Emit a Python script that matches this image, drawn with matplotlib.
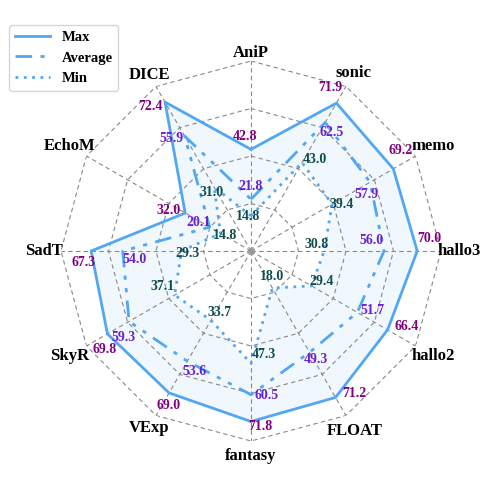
import numpy as np
import matplotlib.pyplot as plt
from matplotlib.lines import Line2D

# data
labels = ['AniP', 'sonic', 'memo', 'hallo3', 'hallo2', 'FLOAT',
          'fantasy', 'VExp', 'SkyR', 'SadT', 'EchoM', 'DICE']
max_vals = [42.8, 71.9, 69.2, 70.0, 66.4, 71.2, 71.8, 69.0, 69.8, 67.3, 32.0, 72.4]
avg_vals = [21.8, 62.5, 57.9, 56.0, 51.7, 49.3, 60.5, 53.6, 59.3, 54.0, 20.1, 55.9]
min_vals = [14.8, 43.0, 39.4, 30.8, 29.4, 18.0, 47.3, 33.7, 37.1, 29.3, 14.8, 31.0]
rings = [20, 40, 60, 80]

# label nudges: (angle shift in degrees ccw, radial shift in px)
max_off = [(3, 13), (4, 11), (4, 16), (4, 12), (4, 15), (6, 7),
           (3, 5), (2, 11), (4, 11), (4, 8), (4, 16), (5, 4)]
avg_off = [(0, 13), (-4, -5), (-4, -9), (5, -12), (4, 12), (1, 9),
           (6, 2), (5, 6), (4, 13), (4, -12), (2, 12), (5, 5)]
min_off = [(5, -1), (-5, 9), (-3, 8), (6, -7), (7, 7), (10, -10),
           (7, -8), (3, -11), (-8, 7), (2, -6), (0, -5), (4, -3)]
# radius of axis names in px from centre
name_r = [198, 206, 210, 208, 210, 208, 205, 204, 210, 207, 210, 203]

line_c = '#52a7f2'
max_c, avg_c, min_c = '#800080', '#6a1fd0', '#0f4c4c'
serif = ['Liberation Serif', 'DejaVu Serif']
PX = 190 / 80.0  # pixels per data unit

n = len(labels)
theta = np.arange(n) * 2 * np.pi / n
th_closed = np.append(theta, theta[0])


def closed(v):
    return np.append(v, v[0])


fig = plt.figure(figsize=(4.88, 4.88), dpi=100)
ax = fig.add_axes([61 / 488, 47 / 488, 380 / 488, 380 / 488], projection='polar')
ax.set_theta_offset(np.pi / 2)
ax.set_theta_direction(-1)
ax.set_ylim(0, 80)
ax.set_xticks([])
ax.set_yticks([])
ax.grid(False)
ax.spines['polar'].set_visible(False)
ax.patch.set_alpha(0)

# fills: max area tinted, inside min left white
ax.fill(th_closed, closed(max_vals), color=line_c, alpha=0.08, zorder=1, lw=0)
ax.fill(th_closed, closed(min_vals), color='white', zorder=1.5, lw=0)

# polygon grid
for r in rings:
    ax.plot(th_closed, [r] * (n + 1), color='#888888', lw=0.8, ls=(0, (4, 3)), zorder=2)
for t in theta:
    ax.plot([t, t], [0, 80], color='#888888', lw=0.8, ls=(0, (4, 3)), zorder=2)
ax.plot([0], [0], 'o', color='#999999', ms=4, zorder=2)

avg_ls = (0, (6, 3, 1.5, 3, 1.5, 3))
ax.plot(th_closed, closed(max_vals), color=line_c, lw=2, ls='-', zorder=3)
ax.plot(th_closed, closed(avg_vals), color=line_c, lw=2, ls=avg_ls, zorder=3)
ax.plot(th_closed, closed(min_vals), color=line_c, lw=2, ls=(0, (1, 2)), zorder=3)


def put_values(vals, offs, color):
    for t, v, (da, dr) in zip(theta, vals, offs):
        ax.text(t - np.radians(da), v + dr / PX, f'{v:.1f}', color=color,
                fontsize=10, fontweight='bold', family=serif,
                ha='center', va='center', zorder=5)


put_values(max_vals, max_off, max_c)
put_values(avg_vals, avg_off, avg_c)
put_values(min_vals, min_off, min_c)

# axis names
for t, name, r in zip(theta, labels, name_r):
    ax.text(t, r / PX, name, fontsize=12, fontweight='bold', family=serif,
            ha='center', va='center')

handles = [Line2D([], [], color=line_c, lw=2, ls='-'),
           Line2D([], [], color=line_c, lw=2, ls=avg_ls),
           Line2D([], [], color=line_c, lw=2, ls=(0, (1, 2)))]
fig.legend(handles, ['Max', 'Average', 'Min'], loc='upper left',
           bbox_to_anchor=(9 / 488, 1 - 25 / 488),
           prop={'family': serif, 'weight': 'bold', 'size': 10.5},
           frameon=True, borderaxespad=0, handlelength=2.4)

fig.savefig('out.png', dpi=100)
